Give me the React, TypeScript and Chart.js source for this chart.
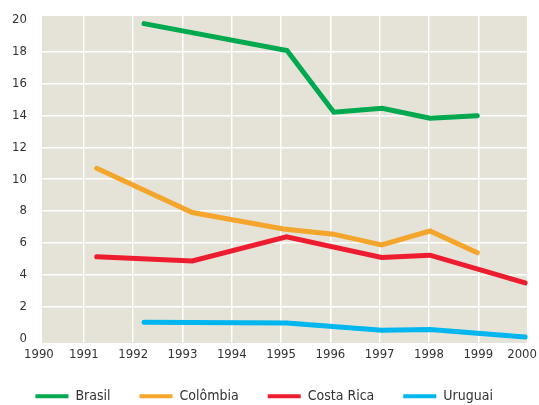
import React, { useEffect, useRef } from "react";
import { Chart, registerables } from "chart.js";

Chart.register(...registerables);

const seriesNames = ["Brasil", "Colômbia", "Costa Rica", "Uruguai"];
const seriesColors = ["#00A94F", "#F4A52C", "#ED1C2E", "#00B6EE"];

const brasilYears = [1992.22, 1995.12, 1996.07, 1997.05, 1998.02, 1998.98];
const brasilValues = [19.76, 18.07, 14.2, 14.45, 13.82, 13.98];

const colombiaYears = [1991.26, 1993.2, 1995.05, 1996.06, 1997.04, 1998.02, 1998.98];
const colombiaValues = [10.68, 7.91, 6.87, 6.55, 5.88, 6.75, 5.38];

const costaRicaYears = [1991.26, 1993.2, 1995.11, 1997.04, 1998.02, 1999.95];
const costaRicaValues = [5.13, 4.87, 6.38, 5.09, 5.23, 3.49];

const uruguaiYears = [1992.22, 1995.12, 1997.04, 1998.02, 1999.95];
const uruguaiValues = [1.02, 0.98, 0.52, 0.57, 0.1];

const xTickLabels = [1990, 1991, 1992, 1993, 1994, 1995, 1996, 1997, 1998, 1999, 2000];
const yTickLabels = [0, 2, 4, 6, 8, 10, 12, 14, 16, 18, 20];

const FONT = "'DejaVu Sans Condensed', 'Liberation Sans', sans-serif";
const TEXT = "#333333";
const BG = "#E5E3D7";

const toPoints = (xs: number[], ys: number[]) => xs.map((x, i) => ({ x, y: ys[i] }));

const bgPlugin = {
  id: "plotBg",
  beforeDraw(chart: any) {
    const { ctx, chartArea } = chart;
    ctx.save();
    ctx.fillStyle = BG;
    ctx.fillRect(chartArea.left, chartArea.top, chartArea.right - chartArea.left, chartArea.bottom - chartArea.top);
    // keep the edge x-axis labels inside the canvas
    const s = chart.scales.x;
    const items = s.getLabelItems();
    items.forEach((it: any) => {
      ctx.font = it.font.string;
      const w = ctx.measureText(String(it.label)).width;
      const t = it.options.translation;
      if (t[0] - w / 2 < 24) t[0] = 24 + w / 2;
      if (t[0] + w / 2 > chart.width - 2) t[0] = chart.width - 2 - w / 2;
    });
    ctx.restore();
  },
};

export default function App() {
  const ref = useRef<HTMLCanvasElement | null>(null);

  useEffect(() => {
    document.body.style.margin = "0";
    const series = [
      toPoints(brasilYears, brasilValues),
      toPoints(colombiaYears, colombiaValues),
      toPoints(costaRicaYears, costaRicaValues),
      toPoints(uruguaiYears, uruguaiValues),
    ];
    const chart = new Chart(ref.current as HTMLCanvasElement, {
      type: "line",
      data: {
        datasets: series.map((data, i) => ({
          label: seriesNames[i],
          data,
          borderColor: seriesColors[i],
          backgroundColor: seriesColors[i],
          borderWidth: 5,
          borderCapStyle: "round",
          borderJoinStyle: "miter",
          pointRadius: 0,
          pointHoverRadius: 0,
          tension: 0,
          fill: false,
        })),
      },
      options: {
        animation: false,
        responsive: true,
        maintainAspectRatio: false,
        layout: { padding: { top: 16, right: 10.7, bottom: -8.3, left: 0 } },
        plugins: {
          tooltip: { enabled: false },
          legend: {
            position: "bottom",
            labels: {
              boxWidth: 33,
              boxHeight: 4,
              padding: 29,
              color: TEXT,
              font: { family: FONT, size: 14 },
              generateLabels: (c: any) =>
                Chart.defaults.plugins.legend.labels
                  .generateLabels(c)
                  .map((l: any) => ({ ...l, lineWidth: 0, fillStyle: l.strokeStyle })),
            },
          },
        },
        scales: {
          x: {
            type: "linear",
            min: 1990.15,
            max: 2000.015,
            afterBuildTicks: (s: any) => {
              s.ticks = xTickLabels.map((v) => ({ value: v }));
            },
            afterFit: (s: any) => {
              s.height = 17.3;
              s.paddingLeft = 0;
              s.paddingRight = 0;
            },
            border: { display: false },
            grid: { color: "#FFFFFF", lineWidth: 1.5, drawTicks: false },
            ticks: {
              autoSkip: false,
              maxRotation: 0,
              padding: 4,
              color: TEXT,
              font: { family: FONT, size: 13 },
              callback: (v: any) => String(v),
            },
          },
          y: {
            type: "linear",
            min: -0.28,
            max: 20.24,
            afterBuildTicks: (s: any) => {
              s.ticks = yTickLabels.map((v) => ({ value: v }));
            },
            afterFit: (s: any) => {
              s.width = 42;
              s.paddingTop = 0;
              s.paddingBottom = 0;
            },
            border: { display: false },
            grid: {
              drawTicks: false,
              lineWidth: 1.5,
              color: (ctx: any) =>
                ctx.tick && (ctx.tick.value === 0 || ctx.tick.value === 20) ? "rgba(0,0,0,0)" : "#FFFFFF",
            },
            ticks: {
              padding: 15,
              color: TEXT,
              font: { family: FONT, size: 13 },
              callback: (v: any) => String(v),
            },
          },
        },
      },
      plugins: [bgPlugin],
    } as any);
    return () => chart.destroy();
  }, []);

  return (
    <div style={{ position: "relative", width: 539, height: 405 }}>
      <canvas ref={ref} />
    </div>
  );
}
